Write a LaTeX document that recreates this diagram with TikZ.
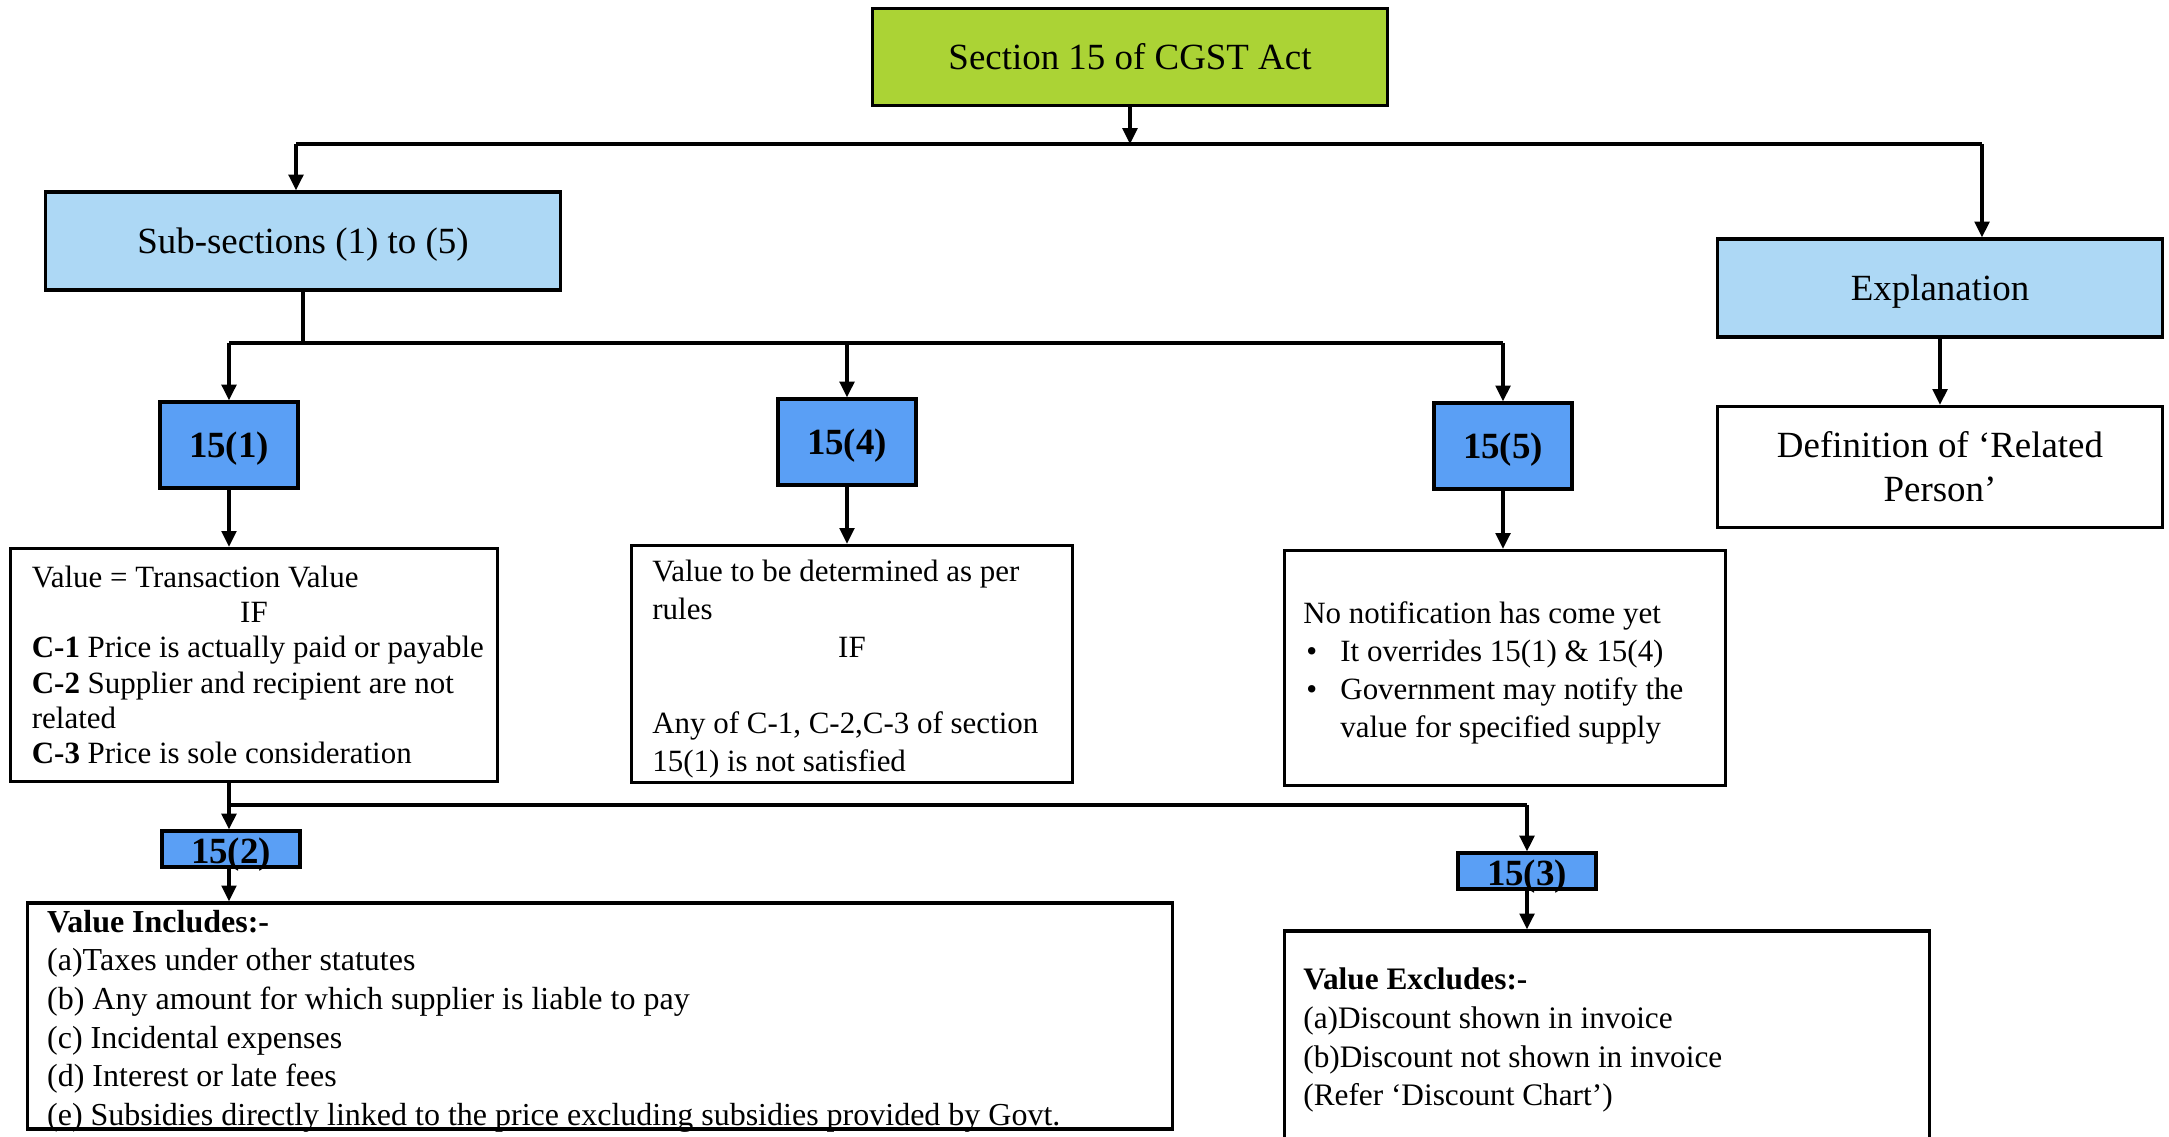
\documentclass[tikz,border=0pt]{standalone}
\usepackage{fontspec}
\setmainfont{Liberation Serif}
\usepackage{tikz}
\usepackage{xcolor}
\usetikzlibrary{shapes,arrows,arrows.meta,positioning,calc}
\definecolor{cgstgreen}{RGB}{171,211,53}
\definecolor{subblue}{RGB}{173,216,245}
\definecolor{numblue}{RGB}{90,159,245}
\setlength{\parindent}{0pt}

\tikzset{
  box/.style={draw, rectangle, line width=0.9pt, inner sep=0pt, align=center},
  headbox/.style={box, fill=cgstgreen, minimum width=5.14cm, minimum height=0.97cm,
    text height=0.85em, text depth=0.15em, font=\fontsize{10.5}{12.5}\selectfont},
  subbox/.style={box, fill=subblue, minimum height=0.98cm,
    text height=0.85em, text depth=0.15em, font=\fontsize{10.5}{12.5}\selectfont},
  numbox/.style={box, fill=numblue, minimum width=1.38cm, minimum height=0.86cm,
    text height=0.85em, text depth=0.15em, font=\bfseries\fontsize{10.5}{12.5}\selectfont},
  flatnum/.style={numbox, minimum height=0.36cm, text height=0.8em, text depth=0pt},
  txtbox/.style={draw, rectangle, line width=0.9pt, inner sep=0pt,
    font=\fontsize{8.8}{10.8}\selectfont},
  arr/.style={-{Triangle[length=4.5pt,width=4.2pt]}, line width=0.9pt},
  link/.style={line width=0.9pt}
}

\begin{document}
\begin{tikzpicture}[x=0.01cm,y=-0.01cm]
    \useasboundingbox (0,0) rectangle (2169,1137);

    % top level
    \node[headbox] (sec) at (1130,57) {Section 15 of CGST Act};
    \node[subbox, minimum width=5.15cm] (sub) at (303,241) {Sub-sections (1) to (5)};
    \node[subbox, minimum width=4.45cm] (expl) at (1940,288) {Explanation};
    \node[box, minimum width=4.45cm, minimum height=1.21cm,
      font=\fontsize{10.5}{12.5}\selectfont] (defn) at (1940,467)
      {Definition of ‘Related\\Person’};

    \coordinate (busA) at (296,144);
    \coordinate (busB) at (1982,144);
    \draw[arr] (sec.south) -- (sec.south |- busA);
    \draw[link] (busA) -- (busB);
    \draw[arr] (busA) -- (busA |- sub.north);
    \draw[arr] (busB) -- (busB |- expl.north);
    \draw[arr] (expl) -- (defn);

    % sub-sections (1), (4), (5)
    \node[numbox] (n1) at (229,445) {15(1)};
    \node[numbox] (n4) at (847,442) {15(4)};
    \node[numbox] (n5) at (1503,446) {15(5)};

    \coordinate (busC) at (229,343);
    \draw[link] (sub.south) -- (sub.south |- busC);
    \draw[link] (busC) -- (busC -| n5);
    \draw[arr] (busC) -- (n1.north);
    \draw[arr] (busC -| n4) -- (n4.north);
    \draw[arr] (busC -| n5) -- (n5.north);

    \node[txtbox, font=\fontsize{8.8}{10}\selectfont] (tv) at (254,665) {%
      \hspace*{0.21cm}\parbox[c][2.33cm][c]{4.65cm}{\raggedright
      Value = Transaction Value\par
      {\centering\hspace*{-0.21cm}IF\par}
      \textbf{C-1} Price is actually paid or payable\par
      \textbf{C-2} Supplier and recipient are not\par
      related\par
      \textbf{C-3} Price is sole consideration}};

    \node[txtbox] (rules) at (852,664) {%
      \hspace*{0.21cm}\parbox[c][2.37cm][c]{4.2cm}{\raggedright\vspace*{3pt}
      Value to be determined as per\par
      rules\par
      {\centering\hspace*{-0.21cm}IF\par}
      \strut\par
      Any of C-1, C-2,C-3 of section\par
      15(1) is not satisfied}};

    \node[txtbox] (notif) at (1505,668) {%
      \hspace*{0.19cm}\parbox[c][2.35cm][c]{4.22cm}{\raggedright\vspace*{3pt}
      No notification has come yet\par
      \makebox[0.37cm][l]{\hspace{0.03cm}\textbullet}It overrides 15(1) \& 15(4)\par
      \makebox[0.37cm][l]{\hspace{0.03cm}\textbullet}Government may notify the\par
      \hspace*{0.37cm}value for specified supply}};

    \draw[arr] (n1.south) -- (n1.south |- tv.north);
    \draw[arr] (n4.south) -- (n4.south |- rules.north);
    \draw[arr] (n5.south) -- (n5.south |- notif.north);

    % sub-sections (2) and (3)
    \node[flatnum] (q2) at (231,849) {15(2)};
    \node[flatnum] (q3) at (1527,871) {15(3)};

    \coordinate (busD) at (229,805);
    \draw[link] (tv.south -| n1) -- (busD) -- (busD -| q3);
    \draw[arr] (busD) -- (busD |- q2.north);
    \draw[arr] (busD -| q3) -- (q3.north);

    \node[txtbox, font=\fontsize{9.1}{11}\selectfont] (incl) at (600,1016) {%
      \hspace*{0.2cm}\parbox[c][2.26cm][t]{11.25cm}{\raggedright\vspace*{2pt}
      \textbf{Value Includes:-}\par
      (a)Taxes under other statutes\par
      (b) Any amount for which supplier is liable to pay\par
      (c) Incidental expenses\par
      (d) Interest or late fees\par
      (e) Subsidies directly linked to the price excluding subsidies provided by Govt.}};

    \node[txtbox, font=\fontsize{8.9}{11}\selectfont] (excl) at (1607,1036) {%
      \hspace*{0.19cm}\parbox[c][2.1cm][c]{6.26cm}{\raggedright\vspace*{2.4pt}
      \textbf{Value Excludes:-}\par
      (a)Discount shown in invoice\par
      (b)Discount not shown in invoice\par
      (Refer ‘Discount Chart’)}};

    \draw[arr] (q2.south -| busD) -- (busD |- incl.north);
    \draw[arr] (q3.south) -- (q3.south |- excl.north);

\end{tikzpicture}
\end{document}
